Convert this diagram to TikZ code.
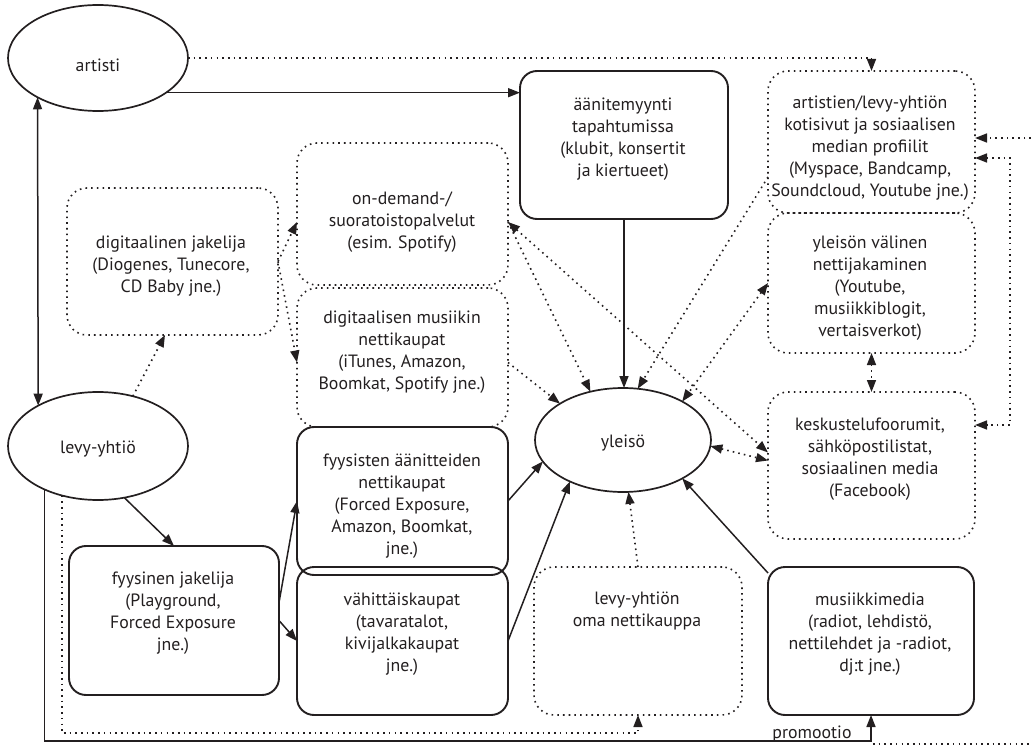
\documentclass[tikz,border=0pt]{standalone}
\usepackage{fontspec}
\setmainfont{PT Sans}
\usetikzlibrary{arrows.meta,calc,shapes.geometric}
\definecolor{ink}{RGB}{35,31,32}
\begin{document}
\begin{tikzpicture}[x=1pt,y=-1pt,
  every node/.style={inner sep=0pt, outer sep=0pt},
  >={Triangle[length=12pt,width=9pt]},
  rbox/.style={draw=ink, line width=1.9pt, rounded corners=17pt, rectangle},
  dbox/.style={draw=ink, line width=1.6pt, dash pattern=on 1.6pt off 4.1pt, rounded corners=20pt, rectangle},
  oval/.style={draw=ink, line width=1.7pt, ellipse},
  txt/.style={text=ink, align=center, font=\fontsize{17.8}{22}\selectfont},
  sline/.style={draw=ink, line width=1.5pt},
  dline/.style={draw=ink, line width=1.6pt, dash pattern=on 1.6pt off 4.1pt},
]
\useasboundingbox (0,0) rectangle (1031,746);

% ellipses
\node[oval, minimum width=180pt, minimum height=106pt] (artisti) at (98,58) {};
\node[txt] (artisti-t) at (98,65) {artisti};
\node[oval, minimum width=180pt, minimum height=108pt] (levy) at (98,446) {};
\node[txt] (levy-t) at (98,449) {levy-yhtiö};
\node[oval, minimum width=176pt, minimum height=104pt] (yleiso) at (623,440) {};
\node[txt] (yleiso-t) at (623,443) {yleisö};

% boxes
\node[rbox, minimum width=208pt, minimum height=148pt] (aani) at (624,145) {};
\node[txt] (aani-t) at (623,139) {äänitemyynti\\tapahtumissa\\(klubit, konsertit\\ja kiertueet)};

\node[dbox, minimum width=207pt, minimum height=142pt] (artistien) at (871.5,142) {};
\node[txt] (artistien-t) at (870,148) {artistien/levy-yhtiön\\kotisivut ja sosiaalisen\\median profiilit\\(Myspace, Bandcamp,\\Soundcloud, Youtube jne.)};

\node[dbox, minimum width=207pt, minimum height=140pt] (yleisoni) at (871.5,283) {};
\node[txt] (yleisoni-t) at (870,288) {yleisön välinen\\nettijakaminen\\(Youtube,\\musiikkiblogit,\\vertaisverkot)};

\node[dbox, minimum width=207pt, minimum height=147pt] (keskustelu) at (871.5,465.5) {};
\node[txt] (keskustelu-t) at (870,459) {keskustelufoorumit,\\sähköpostilistat,\\sosiaalinen media\\(Facebook)};

\node[dbox, minimum width=211pt, minimum height=147pt] (digjak) at (172.5,261.5) {};
\node[txt] (digjak-t) at (171,266) {digitaalinen jakelija\\(Diogenes, Tunecore,\\CD Baby jne.)};

\node[dbox, minimum width=211pt, minimum height=142pt] (ondemand) at (402.5,214) {};
\node[txt] (ondemand-t) at (402,222) {on-demand-/\\suoratoistopalvelut\\(esim. Spotify)};

\node[dbox, minimum width=211pt, minimum height=139pt] (digmus) at (402.5,357.5) {};
\node[txt] (digmus-t) at (402,352) {digitaalisen musiikin\\nettikaupat\\(iTunes, Amazon,\\Boomkat, Spotify jne.)};

\node[rbox, minimum width=211pt, minimum height=148pt] (fyysisten) at (402.5,501) {};
\node[txt] (fyysisten-t) at (402,506) {fyysisten äänitteiden\\nettikaupat\\(Forced Exposure,\\Amazon, Boomkat,\\jne.)};

\node[rbox, minimum width=211pt, minimum height=148pt] (vahit) at (402.5,641) {};
\node[txt] (vahit-t) at (402,634) {vähittäiskaupat\\(tavaratalot,\\kivijalkakaupat\\jne.)};

\node[rbox, minimum width=210pt, minimum height=149pt] (fjak) at (174,620.5) {};
\node[txt] (fjak-t) at (173,613) {fyysinen jakelija\\(Playground,\\Forced Exposure\\jne.)};

\node[dbox, minimum width=208pt, minimum height=148pt] (oma) at (638,641) {};
\node[txt] (oma-t) at (637,611) {levy-yhtiön\\oma nettikauppa};

\node[rbox, minimum width=206pt, minimum height=148pt] (musmed) at (871,641) {};
\node[txt] (musmed-t) at (870,634) {musiikkimedia\\(radiot, lehdistö,\\nettilehdet ja -radiot,\\dj:t jne.)};

% free coordinates
\coordinate (rin) at (1031,138);
\coordinate (r1) at (1010,158);
\coordinate (r2) at (1010,425);
\coordinate (bs) at (0,741);
\coordinate (bd) at (0,733);
\coordinate (rb1) at (873,744);
\coordinate (rb2) at (1031,744);

% connectors
\draw[dline,->] (artisti.east) -| (artistien.north);
\draw[sline,->] (artisti.-27.4) -- (artisti.-27.4 -| aani.west);
\draw[sline,<->] (artisti.213.4) -- (levy.146.3);
\draw[dline,->] (levy.55.5) -- ($(digjak.south)+(-7.5,0)$);
\draw[dline,->] (digjak.east) -- ($(ondemand.west)+(0,8)$);
\draw[dline,->] (digjak.east) -- ($(digmus.west)+(0,5)$);
\draw[sline,->] (aani.south) -- (aani.south |- yleiso.north);
\draw[dline,->] ($(ondemand.east)+(0,8)$) -- (yleiso.124);
\draw[dline,<->] ($(ondemand.east)+(0,8)$) -- ($(keskustelu.west)+(0,-13)$);
\draw[dline,->] ($(digmus.east)+(0,5)$) -- (yleiso.150);
\draw[dline,->] ($(artistien.west)+(0,35)$) -- (yleiso.74);
\draw[dline,<->] (yleisoni.west) -- (yleiso.33);
\draw[dline,<->] (yleiso.-4) -- ($(keskustelu.west)+(0,-5)$);
\draw[dline,<->] (yleisoni.south) -- (keskustelu.north);
\draw[dline,->] (rin) -- (rin -| artistien.east);
\draw[dline,<->] (r1 -| artistien.east) -- (r1) -- (r2) -- (r2 -| keskustelu.east);
\draw[sline,->] (levy.219.4) |- (musmed.south |- bs) -- (musmed.south);
\node[txt, anchor=base] (promo) at (812,738) {promootio};
\draw[dline,->] (levy.234) |- (oma.south |- bd) -- (oma.south);
\draw[dline] (rb1) -- (rb2);
\draw[sline,->] ($(fjak.east)+(0,-18)$) -- (fyysisten.west);
\draw[sline,->] (fjak.east) -- (vahit.west);
\draw[sline,->] (levy.-63.3) -- (fjak.north);
\draw[sline,->] (fyysisten.east) -- (yleiso.195);
\draw[sline,->] (vahit.east) -- (yleiso.218);
\draw[sline,->] ($(musmed.north west)+(0,6)$) -- (yleiso.-33);
\draw[dline,->] (oma.north) -- (yleiso.-84.5);
\end{tikzpicture}
\end{document}
